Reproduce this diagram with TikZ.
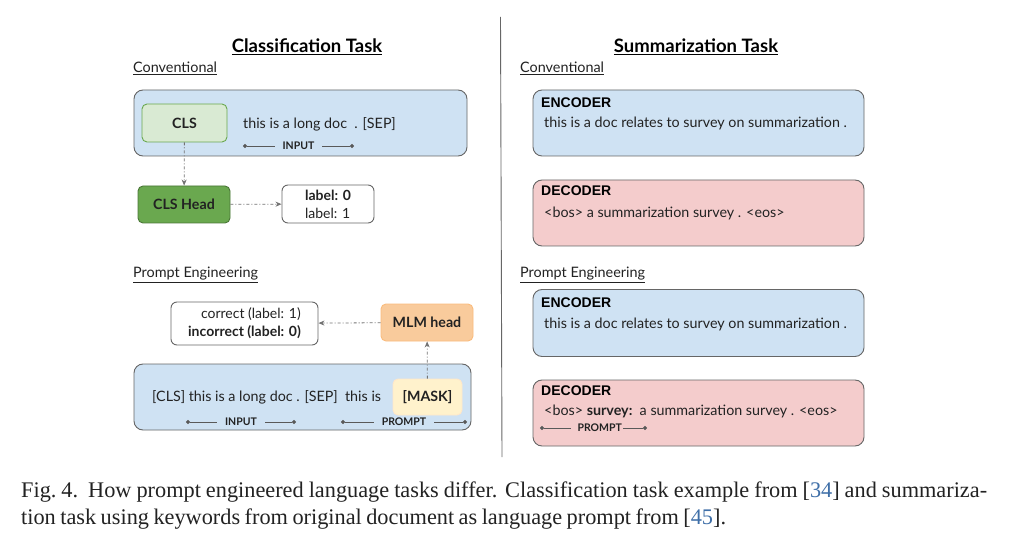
\documentclass[tikz,border=0pt]{standalone}
\usepackage{fontspec}
\setmainfont{Liberation Serif}[WordSpace=0.8]
\newfontfamily\diafont{Lato}
\newfontfamily\arialfont{Liberation Sans}
\usetikzlibrary{positioning, arrows.meta}
\definecolor{encblue}{HTML}{CFE2F3}
\definecolor{decpink}{HTML}{F4CCCC}
\definecolor{clsgreen}{HTML}{D9EAD3}
\definecolor{headgreen}{HTML}{6AA84F}
\definecolor{mlmorange}{HTML}{F9CB9C}
\definecolor{maskyellow}{HTML}{FFF2CC}
\definecolor{citeblue}{HTML}{3F6FA8}
\definecolor{ink}{HTML}{222222}
\tikzstyle{arrow} = [black!55, line width=0.8pt, dash pattern=on 3pt off 2pt on 1pt off 2pt, -{Stealth[length=6pt,width=5pt]}]
\tikzstyle{bigbox} = [rectangle, rounded corners=9pt, draw=black!60, line width=0.9pt, minimum width=333pt, minimum height=66pt]
\tikzstyle{tokbox} = [rectangle, rounded corners=5pt, line width=0.9pt, minimum width=92pt, minimum height=37pt, font=\diafont\bfseries\fontsize{14.2}{16}\selectfont, text=ink]
\tikzstyle{outbox} = [rectangle, rounded corners=6pt, draw=black!60, fill=white, line width=0.9pt, font=\diafont\fontsize{14}{18}\selectfont, text=ink, inner sep=0pt]
\tikzstyle{doctext} = [anchor=west, inner sep=0pt, font=\diafont\fontsize{14.3}{16}\selectfont, text=ink]
\tikzstyle{parttext} = [anchor=west, inner sep=0pt, font=\arialfont\bfseries\fontsize{14}{16}\selectfont, text=black]
\tikzstyle{heading} = [inner sep=0pt, font=\diafont\bfseries\fontsize{18.5}{20}\selectfont, text=black]
\tikzstyle{subheading} = [anchor=west, inner sep=0pt, font=\diafont\fontsize{14.4}{16}\selectfont, text=ink]
\tikzstyle{span} = [black!65, line width=0.8pt, {Circle[length=4pt]}-{Circle[length=4pt]}]
\tikzstyle{spanlabel} = [inner xsep=8pt, inner ysep=1pt, font=\diafont\bfseries\fontsize{10.5}{11}\selectfont, text=ink]

\begin{document}
\begin{tikzpicture}[x=1pt, y=-1pt]
\useasboundingbox (0,0) rectangle (1023,548);
\fill[white] (0,0) rectangle (1023,548);

% Classification task
\node (clsTitle) [heading] at (307,47) {\underline{Classification Task}};
\node (convL) [subheading] at (133,68) {\underline{Conventional}};
\node (inBox) [bigbox, fill=encblue] at (300.5,123) {};
\node (cls) [tokbox, draw=headgreen, fill=clsgreen, minimum width=85pt, minimum height=38pt] at (184.5,123) {CLS};
\node (inText) [doctext] at (243,124) {this is a long doc\ \ . [SEP]};
\coordinate (inA) at (243,146);
\coordinate (inB) at (354,146);
\draw [span] (inA) -- node[spanlabel, fill=encblue] {INPUT} (inB);
\node (clsHead) [tokbox, draw=headgreen!70!black, fill=headgreen] at (184,204.5) {CLS Head};
\node (labelBox) [outbox, minimum width=92pt, minimum height=38pt, align=left] at (328,204) {\textbf{label: 0}\\label: 1};

\node (peL) [subheading] at (133,275) {\underline{Prompt Engineering}};
\node (verbBox) [outbox, minimum width=147pt, minimum height=43pt, align=right] at (244.5,323.5) {correct (label: 1)\\\textbf{incorrect (label: 0)}};
\node (mlmHead) [tokbox, draw=mlmorange!80!orange, fill=mlmorange] at (427,322.5) {MLM head};
\node (promptBox) [bigbox, fill=encblue, minimum width=337pt] at (302.5,397) {};
\node (promptText) [doctext] at (152,397) {[CLS] this is a long doc . [SEP]\ \ this is};
\node (mask) [tokbox, draw=maskyellow!60!orange!40, fill=maskyellow, minimum width=69pt, minimum height=36pt] at (427.5,397) {[MASK]};
\coordinate (in2A) at (186,422);
\coordinate (in2B) at (296,422);
\coordinate (prA) at (341,422);
\coordinate (prB) at (467,422);
\draw [span] (in2A) -- node[spanlabel, fill=encblue] {INPUT} (in2B);
\draw [span] (prA) -- node[spanlabel, fill=encblue] {PROMPT} (prB);

% connectors
\draw [arrow] (cls) -- (clsHead);
\draw [arrow] (clsHead) -- (labelBox);
\draw [arrow] (mask) -- (mlmHead);
\draw [arrow] (mlmHead) -- (verbBox);

% divider
\draw [black!60, line width=0.9pt] (500.5,17) -- (502,457);

% Summarization task
\node (sumTitle) [heading] at (696,47) {\underline{Summarization Task}};
\node (convR) [subheading] at (520,68) {\underline{Conventional}};
\node (enc1) [bigbox, fill=encblue, minimum width=331pt] at (698.5,123) {};
\node (enc1Name) [parttext] at (541,103) {ENCODER};
\node (enc1Text) [doctext] at (544,123) {this is a doc relates to survey on summarization .};
\node (dec1) [bigbox, fill=decpink, minimum width=331pt] at (698.5,213) {};
\node (dec1Name) [parttext] at (541,191) {DECODER};
\node (dec1Text) [doctext] at (544,213) {<bos> a summarization survey . <eos>};

\node (peR) [subheading] at (520,275) {\underline{Prompt Engineering}};
\node (enc2) [bigbox, fill=encblue, minimum width=331pt, minimum height=67pt] at (698.5,323) {};
\node (enc2Name) [parttext] at (541,303) {ENCODER};
\node (enc2Text) [doctext] at (544,324) {this is a doc relates to survey on summarization .};
\node (dec2) [bigbox, fill=decpink, minimum width=331pt] at (698.5,413) {};
\node (dec2Name) [parttext] at (541,391) {DECODER};
\node (dec2Text) [doctext] at (544,411) {<bos> \textbf{survey:}\ \ a summarization survey . <eos>};
\coordinate (pr2A) at (540,428);
\coordinate (pr2B) at (647,428);
\draw [span] (pr2A) -- node[spanlabel, fill=decpink, pos=0.53, inner xsep=1pt] {\hspace*{6pt}PROMPT} (pr2B);

% caption
\node (caption) [anchor=north west, inner sep=0pt, text width=966pt, align=justify, font=\fontsize{22.3}{27}\selectfont, text=ink] at (21,482) {Fig.~4.\ \ How prompt engineered language tasks differ. Classification task example from [\textcolor{citeblue}{34}] and summariza-\linebreak tion task using keywords from original document as language prompt from [\textcolor{citeblue}{45}].};
\end{tikzpicture}
\end{document}
